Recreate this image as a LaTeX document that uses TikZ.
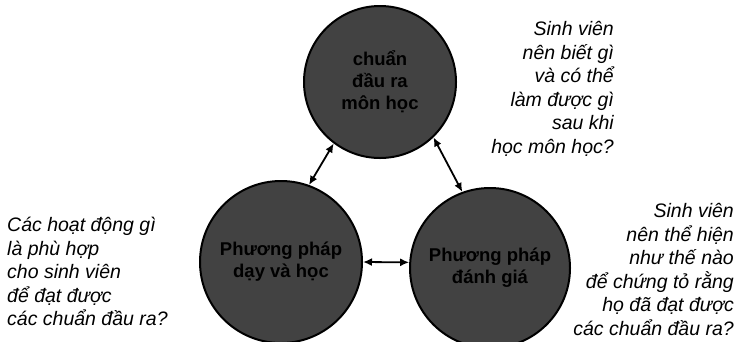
\documentclass[tikz,border=0pt]{standalone}
\usepackage{fontspec}
\setmainfont{Liberation Sans}
\usetikzlibrary{arrows.meta}
\begin{document}
\begin{tikzpicture}[x=1pt,y=-1pt,
  disc/.style={circle, draw=black, line width=2pt, fill=black!74,
    inner sep=0pt, align=center, text=black,
    font=\fontsize{18.5}{22}\selectfont\bfseries},
  link/.style={{Latex[length=9pt,width=8pt]}-{Latex[length=9pt,width=8pt]}, line width=1.8pt},
  note/.style={inner sep=0pt, font=\fontsize{19.5}{23.6}\selectfont\itshape}
]
\useasboundingbox (0,0) rectangle (743,341);

% the three circles
\node[disc, minimum size=152pt] (outcome) at (380,82) {chuẩn\\đầu ra\\môn học};
\node[disc, minimum size=162pt] (teach) at (281,262) {Phương pháp\\dạy và học};
\node[disc, minimum size=160pt] (assess) at (490,268) {Phương pháp\\đánh giá};

% two-way links
\draw[link] (outcome.233) -- (teach.70);
\draw[link] (outcome.314) -- (assess.110);
\draw[link] (teach.east) -- (assess.176);

% guiding questions
\node[note, align=right, anchor=north east] (qtop) at (614,21)
  {Sinh viên\\nên biết gì\\và có thể\\làm được gì\\sau khi\\học môn học?};
\node[note, align=left, anchor=north west] (qleft) at (7,217)
  {Các hoạt động gì\\là phù hợp\\cho sinh viên\\để đạt được\\các chuẩn đầu ra?};
\node[note, align=right, anchor=north east] (qright) at (734,203)
  {Sinh viên\\nên thể hiện\\như thế nào\\để chứng tỏ rằng\\họ đã đạt được\\các chuẩn đầu ra?};
\end{tikzpicture}
\end{document}
